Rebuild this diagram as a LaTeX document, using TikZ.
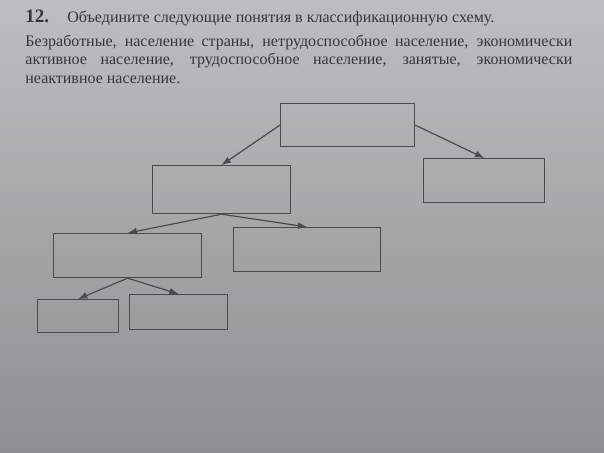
\documentclass[tikz,border=0pt]{standalone}
\usepackage{fontspec}
\setmainfont{Liberation Serif}
\usepackage{xcolor}
\usetikzlibrary{arrows}

\definecolor{paperTop}{RGB}{188,191,191}
\definecolor{paperBot}{RGB}{142,143,144}
\definecolor{inkText}{RGB}{52,54,56}
\definecolor{inkLine}{RGB}{72,74,76}

\begin{document}
\begin{tikzpicture}[x=0.5pt,y=-0.5pt]
\tikzset{box/.style={draw=inkLine,line width=0.6pt,inner sep=0pt,anchor=north west},
arr/.style={->,>=latex,draw=inkLine,line width=0.6pt}}
% page
\shade[top color=paperTop,bottom color=paperBot] (0,0) rectangle (604,453);
\useasboundingbox (0,0) rectangle (604,453);
% task text
\node[anchor=base west,inner sep=0pt,text=inkText,font=\fontsize{9.5}{10}\selectfont\bfseries] (num) at (25,23) {12.};
\node[anchor=base west,inner sep=0pt,text=inkText,font=\fontsize{8}{9}\selectfont] (task) at (67,23) {Объедините следующие понятия в классификационную схему.};
\node[anchor=base west,inner sep=0pt,text=inkText,text width=273.5pt,align=justify,font=\fontsize{8}{9.15}\selectfont] (words) at (25,46.7) {Безработные, население страны, нетрудоспособное население, экономически\linebreak активное население, трудоспособное население, занятые, экономически\linebreak неактивное население.};
% scheme
\node[box,minimum width=67pt,minimum height=21.5pt] (population) at (280,103) {};
\node[box,minimum width=60.5pt,minimum height=22pt] (disabled) at (423,158) {};
\node[box,minimum width=69pt,minimum height=24pt] (able) at (152,165) {};
\node[box,minimum width=74pt,minimum height=22pt] (active) at (53,233) {};
\node[box,minimum width=73.5pt,minimum height=22pt] (inactive) at (233,227) {};
\node[box,minimum width=40.5pt,minimum height=16.5pt] (employed) at (37,299) {};
\node[box,minimum width=49pt,minimum height=17.5pt] (unemployed) at (129,294) {};
\draw[arr] (population.west) -- (able.north);
\draw[arr] (population.east) -- (disabled.north);
\draw[arr] (able.south) -- (active.north);
\draw[arr] (able.south) -- (inactive.north);
\draw[arr] (active.south) -- (employed.north);
\draw[arr] (active.south) -- (unemployed.north);
\end{tikzpicture}
\end{document}
